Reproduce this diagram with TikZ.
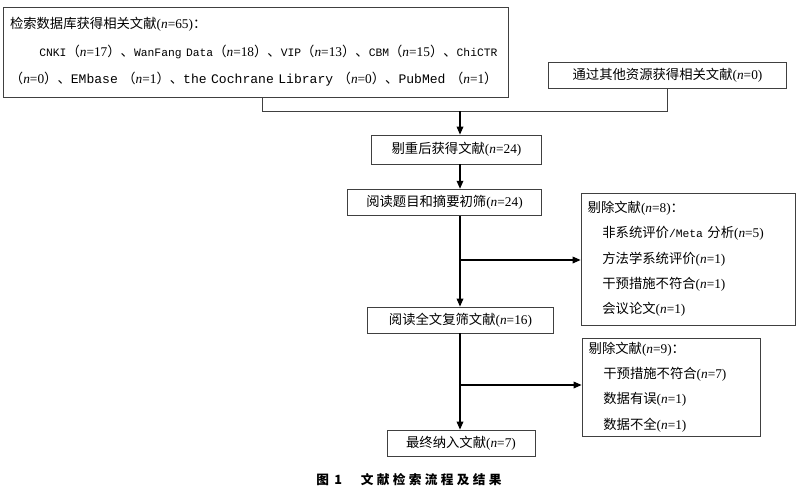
\documentclass[tikz,border=0pt]{standalone}
\usepackage{fontspec}
\setmainfont{Noto Sans CJK SC}
\newfontfamily\tms{Liberation Serif}
\newfontfamily\mono{Liberation Mono}
\usetikzlibrary{arrows.meta}

% n = value, half width and full width forms
\newcommand{\nv}[1]{{\tms(\textit{n}=#1)}}
\newcommand{\nf}[1]{{\tms\textit{n}=#1}}
\newcommand{\db}[1]{{\mono\fontsize{8.5pt}{10pt}\selectfont #1}}
\newcommand{\dbw}[1]{{\mono\fontsize{9.8pt}{10pt}\selectfont #1}}

\begin{document}
\begin{tikzpicture}[x=0.75pt,y=-0.75pt,font=\fontsize{10pt}{12pt}\selectfont]
	\tikzset{box/.style={draw=black!75,line width=0.6pt,inner sep=3pt,align=center},
		listbox/.style={box,align=left,inner xsep=5pt},
		arr/.style={-{Triangle[length=6pt,width=5pt]},line width=0.9pt,black},
		link/.style={draw=black!75,line width=0.6pt}}
	\useasboundingbox (0,0) rectangle (800,493);
	% boxes
	\node[listbox,text width=369pt,minimum height=67.5pt] (search) at (256,52)
		{检索数据库获得相关文献\nv{65}：\\[9pt]
		\hspace*{2.2em}\db{CNKI}（\nf{17}）、\db{WanFang Data}（\nf{18}）、\db{VIP}（\nf{13}）、\db{CBM}（\nf{15}）、\db{ChiCTR}\\[8pt]
		（\nf{0}）、\dbw{EMbase }（\nf{1}）、\dbw{the Cochrane Library }（\nf{0}）、\dbw{PubMed }（\nf{1}）};
	\node[box,minimum width=179pt,minimum height=20pt] (other) at (667.5,75.5) {通过其他资源获得相关文献\nv{0}};
	\node[box,minimum width=128pt,minimum height=21.75pt] (dedup) at (456.5,149.5) {剔重后获得文献\nv{24}};
	\node[box,minimum width=146pt,minimum height=20pt] (title) at (444.5,202.5) {阅读题目和摘要初筛\nv{24}};
	\node[box,minimum width=139pt,minimum height=19.5pt] (full) at (460.5,320) {阅读全文复筛文献\nv{16}};
	\node[box,minimum width=111pt,minimum height=19.5pt] (final) at (461,443) {最终纳入文献\nv{7}};
	\node[listbox,text width=150.5pt,minimum height=99pt] (excl1) at (688,259)
		{剔除文献\nv{8}：\\[7pt]
		\hspace*{1.1em}非系统评价\db{/Meta }分析\nv{5}\\[7pt]
		\hspace*{1.1em}方法学系统评价\nv{1}\\[7pt]
		\hspace*{1.1em}干预措施不符合\nv{1}\\[7pt]
		\hspace*{1.1em}会议论文\nv{1}};
	\node[listbox,text width=123.5pt,minimum height=73.5pt] (excl2) at (671,387)
		{剔除文献\nv{9}：\\[7pt]
		\hspace*{1.1em}干预措施不符合\nv{7}\\[7pt]
		\hspace*{1.1em}数据有误\nv{1}\\[7pt]
		\hspace*{1.1em}数据不全\nv{1}};
	\node[font=\fontsize{9.5pt}{11pt}\selectfont\bfseries] (caption) at (409,480)
		{图\hspace{4pt}1\hspace{14pt}文\hspace{2.5pt}献\hspace{2.5pt}检\hspace{2.5pt}索\hspace{2.5pt}流\hspace{2.5pt}程\hspace{2.5pt}及\hspace{2.5pt}结\hspace{2.5pt}果};
	% connectors
	\coordinate (j1) at (460,111);
	\coordinate (j2) at (460,260);
	\coordinate (j3) at (460,385);
	\draw[link] ([xshift=4.5pt]search.south) |- (other.south |- j1) -- (other.south);
	\draw[arr] (j1) -- (dedup.north -| j1);
	\draw[arr] (dedup.south -| j1) -- (title.north -| j1);
	\draw[arr] (title.south -| j1) -- (full.north -| j1);
	\draw[arr] (j2) -- (excl1.west |- j2);
	\draw[arr] (full.south -| j1) -- (final.north -| j1);
	\draw[arr] (j3) -- (excl2.west |- j3);
\end{tikzpicture}
\end{document}
